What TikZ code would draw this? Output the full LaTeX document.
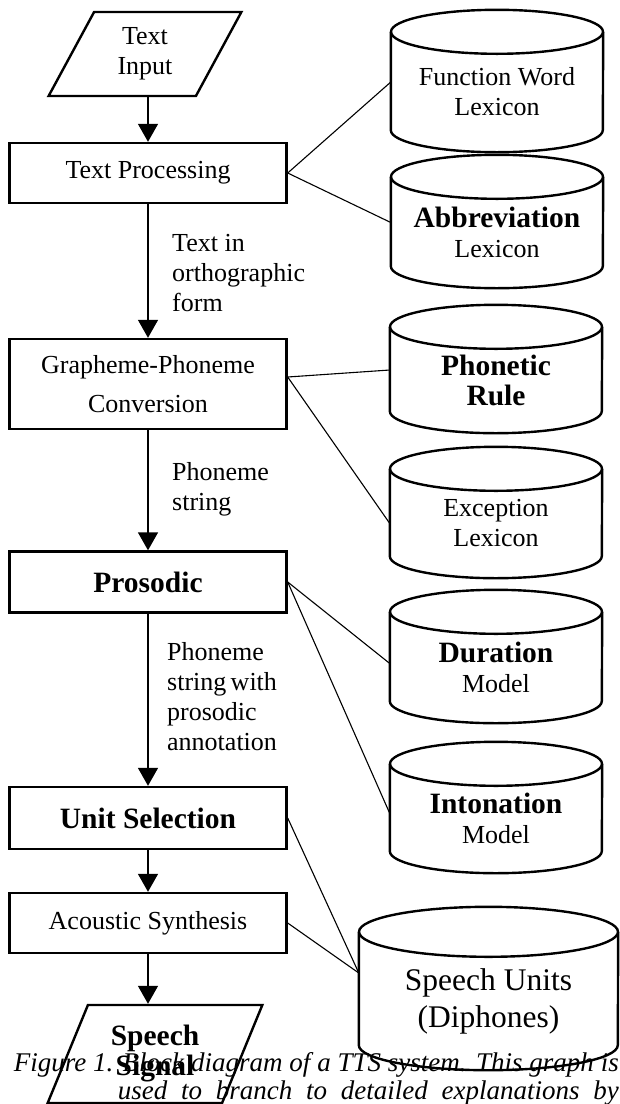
\documentclass[tikz,border=0pt]{standalone}
\usepackage{fontspec}
\setmainfont{Liberation Serif}
\usepackage{calc}
\usetikzlibrary{shapes.geometric,arrows.meta}
\tikzset{
  block/.style={draw, line width=2.4pt, minimum width=277pt, inner sep=0pt, align=center},
  io/.style={draw, line width=2.4pt, trapezium, trapezium left angle=65,
    trapezium right angle=115, trapezium stretches, inner sep=0pt, align=center},
  store/.style={rectangle, minimum width=212pt, inner sep=0pt, align=center},
  drum/.style={line width=2.4pt},
  flow/.style={line width=1.4pt, -{Triangle[width=20pt,length=18pt]}},
  link/.style={line width=1.1pt},
  note/.style={anchor=west, align=left, inner sep=0pt},
}
\newcommand{\bigb}[1]{{\fontsize{29.5}{32}\selectfont\bfseries #1}}
\begin{document}
\begin{tikzpicture}[x=1pt, y=-1pt, font=\fontsize{26}{30}\selectfont]
  \useasboundingbox (0,0) rectangle (619,1104);
  % processing chain
  \draw
    (145,54) node[io, minimum width=193pt, minimum height=84pt] (input) {Text\\Input}
    (148,173) node[block, minimum height=60pt] (tp) {Text Processing}
    (148,384) node[block, minimum height=90pt, font=\fontsize{26}{39}\selectfont] (gp) {Grapheme-Phoneme\\Conversion}
    (148,582) node[block, minimum height=61pt] (pro) {\bigb{Prosodic}}
    (148,818) node[block, minimum height=62pt] (us) {\bigb{Unit Selection}}
    (148,923) node[block, minimum height=60pt] (as) {Acoustic Synthesis}
    (155,1054) node[io, minimum width=215pt, minimum height=98pt] (sig) {\bigb{Speech}\\\bigb{Signal}};
  % data stores (body below the top ellipse centre)
  \draw
    (497,92) node[store, minimum height=120pt] (fwl) {Function Word\\Lexicon}
    (497,232.5) node[store, minimum height=111pt] (abl) {\bigb{Abbreviation}\\Lexicon}
    (496,380) node[store, minimum height=106pt] (phr) {\bigb{Phonetic}\\\bigb{Rule}}
    (496,523.5) node[store, minimum height=109pt] (exl) {Exception\\Lexicon}
    (496,667.5) node[store, minimum height=111pt] (dur) {\bigb{Duration}\\Model}
    (496,818.5) node[store, minimum height=109pt] (ito) {\bigb{Intonation}\\Model}
    (488.5,1001) node[store, minimum width=259pt, minimum height=138pt,
      font=\fontsize{31.5}{37}\selectfont] (spu) {Speech Units\\(Diphones)};
  \foreach \n/\rx/\ry in {fwl/106/22, abl/106/22, phr/106/22, exl/106/22,
                          dur/106/22, ito/106/22, spu/129.5/25}{
    \draw[drum] (\n.north) ellipse [x radius=\rx pt, y radius=\ry pt];
    \draw[drum] (\n.north west) -- ([yshift=\ry pt]\n.south west)
      arc [start angle=180, end angle=360, x radius=\rx pt, y radius=\ry pt]
      -- (\n.north east);
  }
  % labels
  \node[note] (l1) at (172,273) {Text in\\orthographic\\form};
  \node[note] (l2) at (172,489) {Phoneme\\string};
  \node[note] (l3) at (167,697) {Phoneme\\\makebox[\widthof{annotation}][s]{string with}\\prosodic\\annotation};
  \begin{scope}[flow]
    \draw (input.south -| tp.north) -- (tp.north);
    \draw (tp) -- (gp);
    \draw (gp) -- (pro);
    \draw (pro) -- (us);
    \draw (us) -- (as);
    \draw (as.south) -- (as.south |- sig.north);
  \end{scope}
  \begin{scope}[link]
    \draw (tp.east) -- ([yshift=10pt]fwl.west);
    \draw (tp.east) -- ([yshift=10pt]abl.west);
    \draw ([yshift=7pt]gp.east) -- ([yshift=10pt]phr.west);
    \draw ([yshift=7pt]gp.east) -- (exl.west);
    \draw (pro.east) -- ([yshift=4pt]dur.west);
    \draw (pro.east) -- ([yshift=5pt]ito.west);
    \draw (us.east) -- ([yshift=28pt]spu.west);
    \draw (as.east) -- ([yshift=28pt]spu.west);
  \end{scope}
  % caption
  \node[anchor=east, inner sep=0pt, align=right, font=\fontsize{27}{28}\selectfont\itshape] (cap) at (619,1079)
    {\makebox[605pt][s]{Figure 1. Block diagram of a TTS system. This graph is}\\
     \makebox[501pt][s]{used to branch to detailed explanations by}};
\end{tikzpicture}
\end{document}
